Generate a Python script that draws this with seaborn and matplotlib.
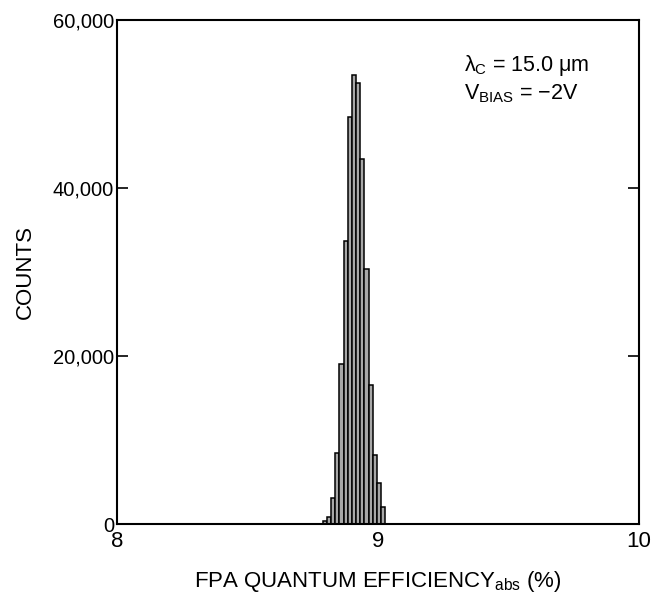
import numpy as np
import pandas as pd
import matplotlib
matplotlib.use("Agg")
import matplotlib.pyplot as plt
import seaborn as sns

# Histogram of absolute quantum efficiency across the focal plane array
bin_left = 8.788
bin_width = 0.016
counts = [350, 850, 3100, 8400, 19100, 33700, 48400, 53500,
          52500, 43400, 30400, 16600, 8200, 4900, 2000]

x_ticks = [8, 9, 10]
y_ticks = [0, 20000, 40000, 60000]
y_tick_labels = ["0", "20,000", "40,000", "60,000"]

edges = bin_left + bin_width * np.arange(len(counts) + 1)
centers = (edges[:-1] + edges[1:]) / 2
df = pd.DataFrame({"qe": centers, "counts": counts})

sns.set_theme(style="ticks")
plt.rcParams["font.family"] = ["Liberation Sans", "DejaVu Sans"]
plt.rcParams["mathtext.fontset"] = "custom"
plt.rcParams["mathtext.rm"] = "Liberation Sans"
plt.rcParams["mathtext.it"] = "Liberation Sans"
plt.rcParams["text.color"] = "black"
plt.rcParams["axes.labelcolor"] = "black"

fig = plt.figure(figsize=(6.66, 5.96), dpi=100)
ax = fig.add_axes([117 / 666, 1 - 524 / 596, (639 - 117) / 666, (524 - 20) / 596])

sns.histplot(data=df, x="qe", weights="counts", bins=list(edges), ax=ax,
             color="#a8a8a8", edgecolor="black", linewidth=1.1, alpha=1)

ax.set_xlim(8, 10)
ax.set_ylim(0, 60000)
ax.set_xticks(x_ticks)
ax.set_xticklabels([str(t) for t in x_ticks])
ax.set_yticks(y_ticks)
ax.set_yticklabels(y_tick_labels)
ax.tick_params(axis="y", direction="in", length=8, width=1.2, labelsize=14.5,
               right=True, colors="black", pad=2)
ax.tick_params(axis="x", length=0, labelsize=16, pad=5, colors="black")
for s in ax.spines.values():
    s.set_linewidth(1.5)
    s.set_color("black")

ax.set_xlabel("FPA QUANTUM EFFICIENCY$_{\\mathrm{abs}}$ (%)", fontsize=16, labelpad=12)
ax.set_ylabel("COUNTS", fontsize=16, labelpad=12)

ax.text(0.665, 0.909, "$\\lambda_{\\mathrm{C}}$ = 15.0 $\\mu$m", transform=ax.transAxes,
        fontsize=15.5, ha="left", va="center")
ax.text(0.665, 0.853, "V$_{\\mathrm{BIAS}}$ = \u22122V",
        transform=ax.transAxes, fontsize=15.5, ha="left", va="center")

fig.savefig("out.png", dpi=100, facecolor="white")
